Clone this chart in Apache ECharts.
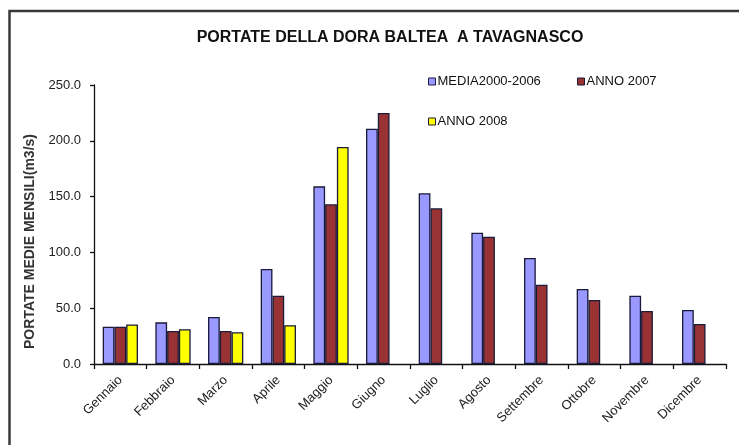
<!DOCTYPE html>
<html><head><meta charset="utf-8">
<script src="https://cdn.jsdelivr.net/npm/echarts@6/dist/echarts.min.js"></script>
<style>html,body{margin:0;padding:0;background:#fff}#c{width:739px;height:445px}</style>
</head><body><div id="c"></div>
<script>
var months = ['Gennaio','Febbraio','Marzo','Aprile','Maggio','Giugno','Luglio','Agosto','Settembre','Ottobre','Novembre','Dicembre'];
var media = [33.4, 37.3, 42.1, 85.1, 159.2, 210.8, 153.0, 117.7, 95.0, 67.2, 61.2, 48.4];
var anno2007 = [33.4, 29.6, 29.6, 61.2, 143.1, 224.9, 139.5, 114.1, 71.1, 57.3, 47.5, 35.8];
var anno2008 = [35.5, 31.1, 28.4, 34.7, 194.4, null, null, null, null, null, null, null];
var seriesNames = ['MEDIA2000-2006', 'ANNO 2007', 'ANNO 2008'];

var chart = echarts.init(document.getElementById('c'), null, {renderer: 'canvas'});
var font = 'Arial, "Liberation Sans", sans-serif';
function bar(name, data, color) {
  return {name: name, type: 'bar', data: data, barGap: '0%', barCategoryGap: '33%',
    itemStyle: {color: color, borderColor: '#1a1a3a', borderWidth: 1.3}};
}
function leg(name, left, top) {
  return {data: [name], left: left, top: top, itemWidth: 7, itemHeight: 7, icon: 'rect',
    itemStyle: {borderColor: '#1a1a3a', borderWidth: 1},
    textStyle: {fontFamily: font, fontSize: 13, color: '#111', padding: [0,0,0,-3]}};
}
chart.setOption({
  animation: false,
  backgroundColor: '#fff',
  graphic: [{type: 'rect', shape: {x: 9.5, y: 11, width: 740, height: 450},
    style: {fill: 'none', stroke: '#3a3a3a', lineWidth: 2.5}, z: 100}],
  title: {text: 'PORTATE DELLA DORA BALTEA  A TAVAGNASCO', left: 385, top: 25, textAlign: 'center',
    textStyle: {fontFamily: font, fontSize: 16, fontWeight: 'bold', color: '#111'}},
  legend: [leg(seriesNames[0], 423, 70), leg(seriesNames[1], 572, 70), leg(seriesNames[2], 423, 110)],
  grid: {left: 94, right: 13, top: 85, bottom: 81},
  xAxis: {type: 'category', data: months,
    axisLine: {lineStyle: {color: '#111', width: 1.3}},
    axisTick: {show: true, length: 5, lineStyle: {color: '#111', width: 1.3}},
    axisLabel: {rotate: 45, interval: 0, fontFamily: font, fontSize: 13, color: '#222', margin: 14}},
  yAxis: {type: 'value', min: 0, max: 250, interval: 50,
    name: 'PORTATE MEDIE MENSILI(m3/s)', nameLocation: 'middle', nameGap: 53, nameRotate: 90,
    nameTextStyle: {fontFamily: font, fontSize: 14, fontWeight: 'bold', color: '#333', padding: [0, 34, 0, 0]},
    axisLine: {show: true, lineStyle: {color: '#111', width: 1.3}},
    axisTick: {show: true, length: 4, lineStyle: {color: '#111', width: 1.3}},
    splitLine: {show: false},
    axisLabel: {fontFamily: font, fontSize: 13, color: '#222', margin: 13,
      formatter: function(v){return v.toFixed(1);}}},
  series: [bar(seriesNames[0], media, '#9999ff'), bar(seriesNames[1], anno2007, '#993333'), bar(seriesNames[2], anno2008, '#ffff00')]
});
</script></body></html>
